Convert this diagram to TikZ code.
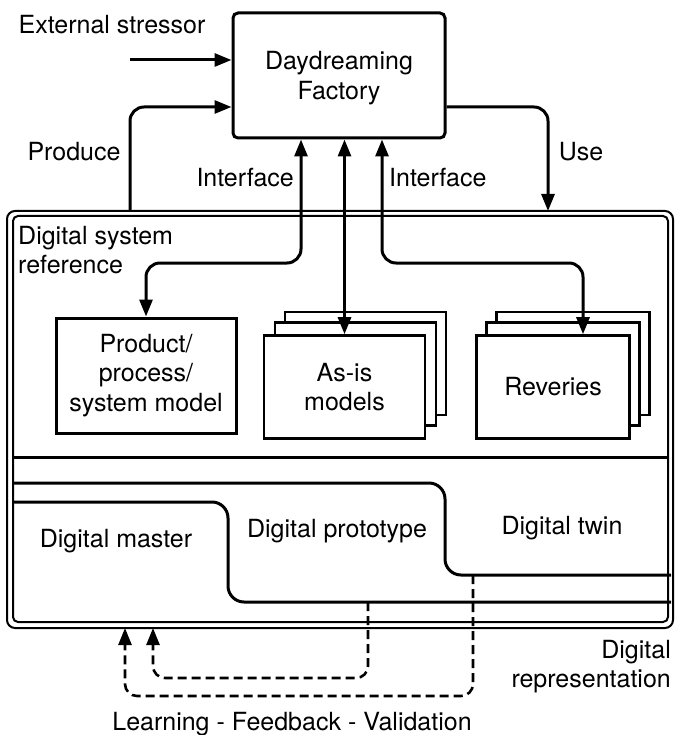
\documentclass[tikz,border=0pt]{standalone}
\usepackage{fontspec}
\setmainfont{TeX Gyre Heros}
\usetikzlibrary{arrows.meta}
\begin{document}
\begin{tikzpicture}[x=1pt,y=-1pt,
  every node/.style={font=\fontsize{25}{29.5}\selectfont, inner sep=0pt},
  ln/.style={line width=3pt},
  arr/.style={ln,-{Triangle[length=17pt,width=13pt]}},
  darr/.style={ln,{Triangle[length=17pt,width=13pt]}-{Triangle[length=17pt,width=13pt]}},
  dsh/.style={line width=2.6pt,dash pattern=on 9pt off 5pt,-{Triangle[length=17pt,width=13pt]}},
  page/.style={draw,line width=2.6pt,fill=white,minimum width=161pt,minimum height=103pt},
  mbox/.style={draw,line width=3pt,align=center}]
\useasboundingbox (0,0) rectangle (674,735);
% factory
\node[mbox,rounded corners=5pt,minimum width=212pt,minimum height=125pt,align=center] (fac) at (339,75.5) {};
\node[align=center] (factxt) at (339,78) {Daydreaming\\Factory};
\node (ext) at (112,25) {External stressor};
\coordinate (extS) at (130,60);
\draw[arr] (extS) -- (extS -| fac.west);
% outer frame
\draw[line width=2pt,rounded corners=8pt] (7,211) rectangle (673,628);
\draw[line width=2pt,rounded corners=5pt] (13,216) rectangle (668,622);
\coordinate (frTopL) at (130,211);
\coordinate (frTopR) at (548,211);
\coordinate (prodC) at (130,107);
\coordinate (useC) at (548,107);
\draw[arr,rounded corners=14pt] (frTopL) -- (prodC) -- (prodC -| fac.west);
\draw[arr,rounded corners=14pt] (useC -| fac.east) -- (useC) -- (frTopR);
\node (produce) at (74,152) {Produce};
\node (use) at (581,152) {Use};
\node[anchor=east] (if1) at (294,178) {Interface};
\node[anchor=west] (if2) at (389,178) {Interface};
\node[anchor=north west,align=left] (dsr) at (18,226) {Digital system\\reference};
% product box
\node[mbox,minimum width=180pt,minimum height=115pt] (prod) at (146,375.5) {Product/\\process/\\system model};
% as-is stack
\node[page] (a3) at (365.5,363.5) {};
\node[page] (a2) at (355.5,374) {};
\node[page,align=center] (a1) at (344.5,387) {As-is\\models};
% reveries stack
\node[page,minimum width=153pt] (r3) at (573,363.5) {};
\node[page,minimum width=153pt] (r2) at (563,374) {};
\node[page,minimum width=153pt] (r1) at (553,387) {Reveries};
% interface arrows
\coordinate (iL) at (301,263);
\coordinate (iR) at (583,263);
\draw[darr,rounded corners=14pt] (fac.south -| iL) -- (iL) -- (iL -| prod.north) -- (prod.north);
\draw[darr] (fac.south -| a1.north) -- (a1.north);
\draw[darr,rounded corners=14pt] (fac.south -| 382,0) -- (382,263) -- (iR) -- (iR |- r1.north);
% separator
\draw[line width=3pt] (13,457) -- (668,457);
% digital master / prototype curves
\draw[ln,rounded corners=16pt] (13,483) -- (445,483) -- (445,575) -- (671,575);
\draw[ln,rounded corners=16pt] (13,502) -- (228,502) -- (228,602) -- (671,602);
\node (dm) at (116,541) {Digital master};
\node (dp) at (337,531) {Digital prototype};
\node (dt) at (562,528) {Digital twin};
% dashed feedback
\coordinate (d1s) at (368,602);
\coordinate (d1c) at (368,678);
\coordinate (d1e) at (153,628);
\coordinate (d2s) at (473,575);
\coordinate (d2c) at (473,696);
\coordinate (d2e) at (125,628);
\draw[dsh,rounded corners=12pt] (d1s) -- (d1c) -- (d1c -| d1e) -- (d1e);
\draw[dsh,rounded corners=12pt] (d2s) -- (d2c) -- (d2c -| d2e) -- (d2e);
\node[anchor=north east,align=right] (dr) at (671,640) {Digital\\representation};
\node (lfv) at (292,724) {Learning - Feedback - Validation};
\end{tikzpicture}
\end{document}
